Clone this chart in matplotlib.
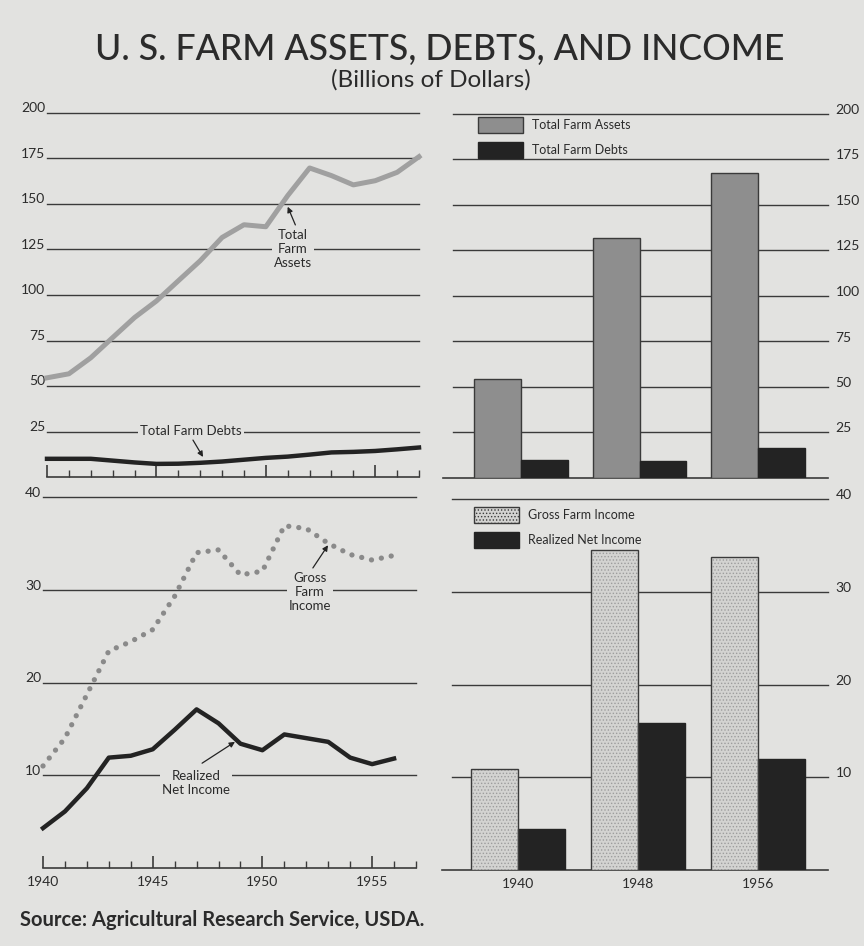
import matplotlib
matplotlib.use("Agg")
import matplotlib.pyplot as plt
from matplotlib.patches import Patch
from matplotlib.transforms import ScaledTranslation

# ---------------- data ----------------
years = list(range(1940, 1958))
total_farm_assets = [54.5, 56.7, 65.5, 76.6, 87.6, 96.7, 107.8, 118.8, 131.6, 138.6,
                     137.5, 154.6, 169.8, 165.6, 160.5, 162.8, 167.4, 176.0]
total_farm_debts = [10.0, 10.0, 10.0, 9.0, 8.0, 7.2, 7.3, 7.8, 8.5, 9.5,
                    10.5, 11.2, 12.3, 13.5, 13.8, 14.3, 15.2, 16.2]

income_years = list(range(1940, 1957))
gross_farm_income = [11.0, 14.0, 18.7, 23.4, 24.4, 25.7, 29.3, 34.0, 34.3, 31.6,
                     32.0, 36.9, 36.6, 35.0, 33.8, 33.2, 33.7]
realized_net_income = [4.3, 6.1, 8.6, 11.9, 12.1, 12.8, 14.9, 17.1, 15.6, 13.4,
                       12.7, 14.4, 14.0, 13.6, 11.9, 11.2, 11.8]

bar_years = ["1940", "1948", "1956"]
bar_assets = [54.5, 132.0, 167.8]
bar_debts = [9.7, 9.4, 16.5]
bar_gross = [10.9, 34.5, 33.8]
bar_net = [4.4, 15.9, 12.0]

top_ticks = [25, 50, 75, 100, 125, 150, 175, 200]
bottom_ticks = [10, 20, 30, 40]

title = "U. S. FARM ASSETS, DEBTS, AND INCOME"
subtitle = "(Billions of Dollars)"
source = "Source: Agricultural Research Service, USDA."

# ---------------- style ----------------
BG = "#e2e2e0"
INK = "#2b2b2b"
GRID = "#3a3a3a"
ASSET_LINE = "#a0a0a0"
ASSET_BAR = "#8e8e8e"
DARK = "#232323"
GROSS_BAR = "#d3d3d1"
FONT = ["Lato", "DejaVu Sans"]
plt.rcParams["font.family"] = FONT
plt.rcParams["hatch.linewidth"] = 0.6

W, H = 864, 946
fig = plt.figure(figsize=(W / 100, H / 100), dpi=100)
fig.patch.set_facecolor(BG)


def rect(l, t, r, b):
    return [l / W, 1 - b / H, (r - l) / W, (b - t) / H]


def px(dx, dy):
    return ScaledTranslation(dx / 100, dy / 100, fig.dpi_scale_trans)


def base_axes(r):
    ax = fig.add_axes(r)
    ax.set_facecolor("none")
    for s in ax.spines.values():
        s.set_visible(False)
    return ax


lbl = dict(fontsize=9.5, color=INK, ha="center", va="center", linespacing=1.2,
           bbox=dict(facecolor=BG, edgecolor="none", pad=1.5), zorder=4)
arr = dict(arrowstyle="-|>", color=DARK, lw=0.9, mutation_scale=8, shrinkA=0, shrinkB=0)


def arrow(ax, tip, tail):
    ax.annotate("", xy=tip, xytext=tail, arrowprops=arr, zorder=5)


# ---------------- top-left: line chart ----------------
ax1 = base_axes(rect(47, 113, 419, 477))
ax1.set_xlim(1940, 1957)
ax1.set_ylim(0, 200)
for v in top_ticks:
    ax1.axhline(v, color=GRID, lw=1.0, zorder=1, clip_on=False)
    ax1.text(-0.005, v, str(v), transform=ax1.get_yaxis_transform() + px(0, 5),
             ha="right", va="center", fontsize=10, color=INK)
ax1.plot(years, total_farm_assets, color=ASSET_LINE, lw=3.6, zorder=3, clip_on=False)
ax1.plot(years, total_farm_debts, color=DARK, lw=3.2, zorder=3, clip_on=False)
ax1.spines["bottom"].set_visible(True)
ax1.spines["bottom"].set_color(GRID)
ax1.spines["bottom"].set_linewidth(1.2)
ax1.set_xticks([1940, 1945, 1950, 1955])
ax1.set_xticks(years, minor=True)
ax1.tick_params(axis="x", which="major", direction="in", length=9, width=1.2,
                color=GRID, labelbottom=False)
ax1.tick_params(axis="x", which="minor", direction="in", length=5, width=1.0, color=GRID)
ax1.set_yticks([])
ax1.text(1951.24, 125.3, "Total\nFarm\nAssets", **lbl)
arrow(ax1, (1951.0, 148.5), (1951.35, 138.5))
ax1.text(1946.58, 25.3, "Total Farm Debts", **lbl)
arrow(ax1, (1947.13, 11.0), (1946.67, 20.3))

# ---------------- bottom-left: line chart ----------------
ax3 = base_axes(rect(43, 497, 416, 868))
ax3.set_xlim(1940, 1957)
ax3.set_ylim(0, 40)
for v in bottom_ticks:
    ax3.axhline(v, color=GRID, lw=1.0, zorder=1, clip_on=False)
    ax3.text(-0.005, v, str(v), transform=ax3.get_yaxis_transform() + px(0, 4),
             ha="right", va="center", fontsize=10, color=INK)
ax3.plot(income_years, gross_farm_income, color="#8a8a8a", lw=3.8,
         linestyle=(0, (0.01, 1.9)), dash_capstyle="round", zorder=3, clip_on=False)
ax3.plot(income_years, realized_net_income, color=DARK, lw=3.2, zorder=3, clip_on=False)
ax3.spines["bottom"].set_visible(True)
ax3.spines["bottom"].set_color(GRID)
ax3.spines["bottom"].set_linewidth(1.2)
ax3.set_xticks([1940, 1945, 1950, 1955])
ax3.set_xticks(years, minor=True)
ax3.tick_params(axis="x", which="major", direction="in", length=9, width=1.2,
                color=GRID, labelsize=10, labelcolor=INK, pad=6)
ax3.tick_params(axis="x", which="minor", direction="in", length=5, width=1.0, color=GRID)
ax3.set_yticks([])
ax3.text(1952.17, 29.76, "Gross\nFarm\nIncome", **lbl)
arrow(ax3, (1952.99, 34.8), (1952.3, 32.35))
ax3.text(1946.97, 9.16, "Realized\nNet Income", **lbl)
arrow(ax3, (1948.75, 13.6), (1947.25, 11.3))

# ---------------- top-right: bar chart ----------------
ax2 = base_axes(rect(443, 114, 828, 478))
ax2.set_xlim(-0.658, 2.59)
ax2.set_ylim(0, 200)
for v in top_ticks:
    ax2.axhline(v, xmin=0.026, xmax=1.0, color=GRID, lw=1.0, zorder=1, clip_on=False)
    ax2.text(1.02, v, str(v), transform=ax2.get_yaxis_transform() + px(0, 4),
             ha="left", va="center", fontsize=10, color=INK)
ax2.axhline(0, color=GRID, lw=1.2, zorder=1, clip_on=False)
xs = range(len(bar_years))
bw = 0.395
ax2.bar([x - bw / 2 for x in xs], bar_assets, width=bw, color=ASSET_BAR,
        edgecolor="#3a3a3a", lw=1.0, zorder=2)
ax2.bar([x + bw / 2 for x in xs], bar_debts, width=bw, color=DARK,
        edgecolor=DARK, lw=1.0, zorder=2)
ax2.set_xticks([])
ax2.set_yticks([])
h_top = [Patch(facecolor=ASSET_BAR, edgecolor="#3a3a3a", lw=1.0),
         Patch(facecolor=DARK, edgecolor=DARK)]
leg = ax2.legend(h_top, ["Total Farm Assets", "Total Farm Debts"], loc="upper left",
                 bbox_to_anchor=(478 / W, 1 - 117 / H), bbox_transform=fig.transFigure,
                 frameon=False, fontsize=9, handlelength=3.6, handleheight=1.55,
                 handletextpad=0.75, labelspacing=0.75, borderpad=0, borderaxespad=0)
for t in leg.get_texts():
    t.set_color(INK)

# ---------------- bottom-right: bar chart ----------------
ax4 = base_axes(rect(442, 499, 828, 870))
ax4.set_xlim(-0.633, 2.583)
ax4.set_ylim(0, 40)
for v in bottom_ticks:
    ax4.axhline(v, xmin=0.026, xmax=1.0, color=GRID, lw=1.0, zorder=1, clip_on=False)
    ax4.text(1.02, v, str(v), transform=ax4.get_yaxis_transform() + px(0, 4),
             ha="left", va="center", fontsize=10, color=INK)
ax4.axhline(0, color=GRID, lw=1.2, zorder=1, clip_on=False)
ax4.bar([x - bw / 2 for x in xs], bar_gross, width=bw, color=GROSS_BAR,
        edgecolor="#9d9d9d", hatch=".....", lw=0, zorder=2)
ax4.bar([x - bw / 2 for x in xs], bar_gross, width=bw, fill=False,
        edgecolor="#3a3a3a", lw=1.0, zorder=2.1)
ax4.bar([x + bw / 2 for x in xs], bar_net, width=bw, color=DARK,
        edgecolor=DARK, lw=1.0, zorder=2)
ax4.set_xticks(list(xs))
ax4.set_xticklabels(bar_years)
ax4.tick_params(axis="x", length=0, labelsize=10, labelcolor=INK, pad=6)
ax4.set_yticks([])
h_bot = [Patch(facecolor=GROSS_BAR, edgecolor="#3a3a3a", hatch=".....", lw=1.0),
         Patch(facecolor=DARK, edgecolor=DARK)]
leg2 = ax4.legend(h_bot, ["Gross Farm Income", "Realized Net Income"], loc="upper left",
                  bbox_to_anchor=(474 / W, 1 - 507 / H), bbox_transform=fig.transFigure,
                  frameon=False, fontsize=9, handlelength=3.6, handleheight=1.55,
                  handletextpad=0.75, labelspacing=0.75, borderpad=0, borderaxespad=0)
for t in leg2.get_texts():
    t.set_color(INK)

# ---------------- titles ----------------
fig.text(440 / W, 1 - 49 / H, title, ha="center", va="center", fontsize=25.7,
         color=INK, fontweight="medium")
fig.text(431 / W, 1 - 80 / H, subtitle, ha="center", va="center", fontsize=17.5,
         color=INK)
fig.text(20 / W, 1 - 920 / H, source, ha="left", va="center", fontsize=14.5,
         color=INK, fontweight="bold")

fig.savefig("out.png", dpi=100, facecolor=BG)
